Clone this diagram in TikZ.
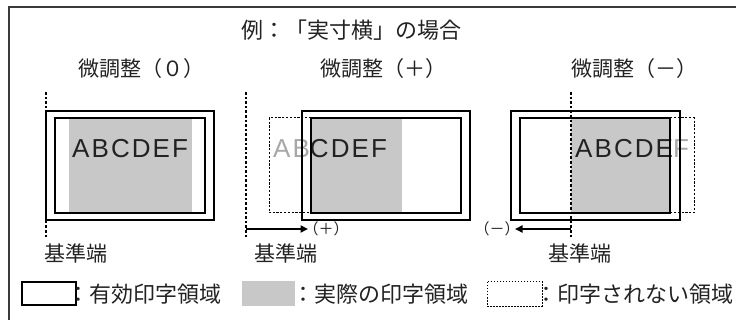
\documentclass[tikz,border=0pt]{standalone}
\usepackage{fontspec}
\setmainfont{Liberation Sans}
\newfontfamily\jp{Noto Sans CJK JP}
\newfontfamily\abcfont[LetterSpace=8]{Liberation Sans}
\usetikzlibrary{arrows.meta}
\definecolor{grayfill}{HTML}{C8C8C8}
\definecolor{ghost}{HTML}{A8A8A8}
\definecolor{ink}{HTML}{222222}
\definecolor{framecol}{HTML}{3A3A3A}
\begin{document}
\begin{tikzpicture}[x=1pt,y=-1pt,
  jptext/.style={font=\jp\fontsize{21}{24}\selectfont, inner sep=0pt, text=ink},
  titletext/.style={font=\jp\fontsize{22}{26}\selectfont, inner sep=0pt, text=ink},
  legtext/.style={font=\jp\fontsize{22}{26}\selectfont, inner sep=0pt, text=ink, anchor=west},
  smalltext/.style={font=\jp\fontsize{15}{18}\selectfont, inner sep=0pt, text=ink},
  abctext/.style={font=\abcfont\fontsize{26}{30}\selectfont, inner sep=0pt, text=ink, anchor=base west},
  paper/.style={draw=black, line width=2.9pt},
  valid/.style={draw=black, line width=1.1pt},
  printed/.style={fill=grayfill},
  lost/.style={draw=black, line width=1pt, dash pattern=on 2.2pt off 1.6pt},
  refline/.style={draw=black, line width=2.8pt, dash pattern=on 2.6pt off 2pt},
  shiftarrow/.style={draw=black, line width=2.2pt, -{Triangle[length=7.5pt,width=7pt]}},
  frameline/.style={draw=framecol, line width=1.6pt}
]
\useasboundingbox (0,0) rectangle (736,320);
% frame
\draw[frameline] (9,320) -- (9,7) -- (736,7);
% title and subtitles
\node[titletext] (title) at (351,30) {例：「実寸横」の場合};
\node[jptext] (sub0) at (141,69) {微調整（０）};
\node[jptext] (subp) at (383,69) {微調整（＋）};
\node[jptext] (subm) at (634,69) {微調整（－）};

% ---------- panel 1 ----------
\fill[printed] (69,118) rectangle (192,213);
\node[abctext] (abc0) at (72,158) {ABCDEF};
\draw[valid] (55,118) rectangle (205,213);
\draw[paper] (46,111) rectangle (214,220);
\coordinate (r0a) at (46,92);
\coordinate (r0b) at (46,238);
\draw[refline] (r0a) -- (r0b);
\node[jptext] (ref0) at (76,253) {基準端};

% ---------- panel 2 ----------
\fill[printed] (311,118) rectangle (402,213);
\node[abctext] (abcp) at (273,158) {\textcolor{ghost}{AB}CDEF};
\draw[lost] (311,118) -- (269,118) -- (269,213) -- (311,213);
\draw[valid] (311,118) rectangle (461,213);
\draw[paper] (302,111) rectangle (470,220);
\coordinate (rpa) at (246,92);
\coordinate (rpb) at (246,238);
\draw[refline] (rpa) -- (rpb);
\coordinate (ap0) at (246,229);
\coordinate (ap1) at (308,229);
\draw[shiftarrow] (ap0) -- (ap1);
\node[smalltext] (lp) at (326,229) {（＋）};
\node[jptext] (refp) at (286,253) {基準端};

% ---------- panel 3 ----------
\fill[printed] (571,118) rectangle (670,213);
\node[abctext] (abcm) at (575,158) {ABCDE\textcolor{ghost}{F}};
\draw[lost] (670,118) -- (694,118) -- (694,213) -- (670,213);
\draw[valid] (520,118) rectangle (670,213);
\draw[paper] (511,111) rectangle (680,220);
\coordinate (rma) at (571,92);
\coordinate (rmb) at (571,238);
\draw[refline] (rma) -- (rmb);
\coordinate (am0) at (571,229);
\coordinate (am1) at (515,229);
\draw[shiftarrow] (am0) -- (am1);
\node[smalltext] (lm) at (497,229) {（－）};
\node[jptext] (refm) at (580,253) {基準端};

% ---------- legend ----------
\draw[valid] (22,282) rectangle (76,305);
\node[legtext] (leg1) at (67,294) {：有効印字領域};
\fill[printed] (242,281) rectangle (295,306);
\node[legtext] (leg2) at (292,294) {：実際の印字領域};
\draw[draw=black, line width=1pt, dash pattern=on 1.5pt off 1.5pt] (487,282) rectangle (542,306);
\node[legtext] (leg3) at (535,294) {：印字されない領域};
\end{tikzpicture}
\end{document}
